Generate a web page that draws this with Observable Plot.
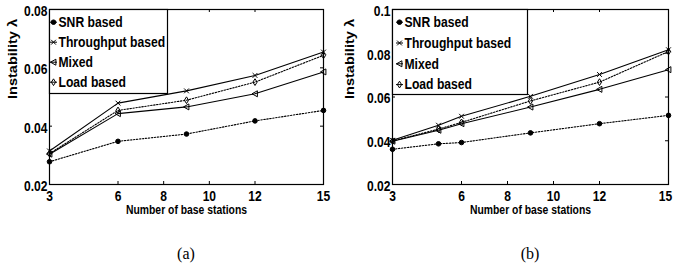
<!DOCTYPE html>
<html><head><meta charset="utf-8">
<script src="https://cdn.jsdelivr.net/npm/d3@7"></script>
<script src="https://cdn.jsdelivr.net/npm/@observablehq/plot@0.6"></script>
<style>
body{margin:0;background:#fff;}
#wrap{position:relative;width:674px;height:270px;background:#fff;}
.panel{position:absolute;top:0;width:337px;height:270px;}
.cap{position:absolute;top:245px;left:0;text-align:center;font-family:"Liberation Serif","Times New Roman",serif;font-size:16px;color:#000;}
</style></head><body>
<div id="wrap"></div>
<script>
const series = ["SNR based", "Throughput based", "Mixed", "Load based"];

// panel (a)
const xA = [3, 6, 9, 12, 15];
const snrA = [0.0278, 0.0348, 0.0373, 0.0418, 0.0454];
const thrA = [0.0315, 0.0479, 0.0521, 0.0574, 0.0654];
const mixA = [0.0304, 0.0443, 0.0466, 0.0511, 0.0586];
const loadA = [0.0306, 0.0454, 0.0489, 0.0551, 0.0643];
const yTicksA = [0.02, 0.04, 0.06, 0.08];
const yLabelsA = ["0.02", "0.04", "0.06", "0.08"];

// panel (b)
const xB = [3, 5, 6, 9, 12, 15];
const snrB = [0.0361, 0.0386, 0.0392, 0.0436, 0.0478, 0.0516];
const thrB = [0.0402, 0.0471, 0.0512, 0.0603, 0.0703, 0.0816];
const mixB = [0.0398, 0.0448, 0.0478, 0.0554, 0.0635, 0.0725];
const loadB = [0.0399, 0.0453, 0.0484, 0.0582, 0.0668, 0.0808];
const yTicksB = [0.02, 0.04, 0.06, 0.08, 0.1];
const yLabelsB = ["0.02", "0.04", "0.06", "0.08", "0.1"];

const xTicks = [3, 6, 8, 10, 12, 15];
const xTickLabels = ["3", "6", "8", "10", "12", "15"];
const xLabel = "Number of base stations";
const yLabel = "Instability \u03bb";
const captions = ["(a)", "(b)"];

const FONT = '"Liberation Sans",Arial,sans-serif';

// marker symbols
const symDot = {draw(c, s) { const r = Math.sqrt(s / Math.PI); c.moveTo(r, 0); c.arc(0, 0, r, 0, 2 * Math.PI); }};
const symX = {draw(c, s) { const r = Math.sqrt(s / Math.PI) * 0.8; c.moveTo(-r, -r); c.lineTo(r, r); c.moveTo(r, -r); c.lineTo(-r, r); }};
const symTriL = {draw(c, s) { const r = Math.sqrt(s / Math.PI); c.moveTo(-r, 0); c.lineTo(r * 0.8, -r); c.lineTo(r * 0.8, r); c.closePath(); }};
const symDia = {draw(c, s) { const r = Math.sqrt(s / Math.PI); c.moveTo(0, -r * 1.2); c.lineTo(r * 0.75, 0); c.lineTo(0, r * 1.2); c.lineTo(-r * 0.75, 0); c.closePath(); }};
const symStub = {draw(c, s) { const r = Math.sqrt(s / Math.PI); c.moveTo(-r, 0); c.lineTo(r, 0); }};

const styles = [
  {sym: symDot, r: 2.3, fill: "black", dash: "1.5,1.5"},
  {sym: symX, r: 3, fill: "none", dash: null},
  {sym: symTriL, r: 3, fill: "none", dash: null},
  {sym: symDia, r: 2.8, fill: "none", dash: "1.5,1.5"}
];

function panel(cfg) {
  const {xs, ys, yDomain, yTicks, yLabels, ml, mr, legW, legH, legMX, legTX, legStep} = cfg;
  const W = 337, Hsvg = 230, mt = 9, mb = 46;
  const iw = W - ml - mr, ih = Hsvg - mt - mb;
  const marks = [];
  ys.forEach((vals, k) => {
    const rows = xs.map((x, i) => ({x, y: vals[i], s: series[k]}));
    const st = styles[k];
    marks.push(Plot.line(rows, {x: "x", y: "y", stroke: "black", strokeWidth: 1.1, strokeDasharray: st.dash}));
    marks.push(Plot.dot(rows, {x: "x", y: "y", symbol: st.sym, r: st.r, stroke: "black", fill: st.fill, strokeWidth: 1}));
  });
  marks.push(Plot.tickX(xTicks, {x: d => d, insetTop: ih - 3, stroke: "black"}));
  marks.push(Plot.tickX(xTicks, {x: d => d, insetBottom: ih - 3, stroke: "black"}));
  marks.push(Plot.tickY(yTicks, {y: d => d, insetRight: iw - 3, stroke: "black"}));
  marks.push(Plot.tickY(yTicks, {y: d => d, insetLeft: iw - 3, stroke: "black"}));
  marks.push(Plot.axisX(xTicks, {anchor: "bottom", tickSize: 0, tickPadding: 7, tickFormat: d => xTickLabels[xTicks.indexOf(d)], fontSize: 14, fontWeight: "bold", fontFamily: FONT, fill: "black", label: null}));
  marks.push(Plot.axisY(yTicks, {anchor: "left", tickSize: 0, tickPadding: 2, dy: 2, tickFormat: d => yLabels[yTicks.indexOf(d)], fontSize: 14, fontWeight: "bold", fontFamily: FONT, fill: "black", label: null}));
  marks.push(Plot.text([xLabel], {text: d => d, frameAnchor: "bottom", dy: 29, fontSize: 12.5, fontWeight: "bold", fontFamily: FONT, fill: "black"}));
  marks.push(Plot.text([yLabel], {text: d => d, frameAnchor: "left", dx: -(ml - 13), dy: 2, rotate: -90, fontSize: 12, fontWeight: "bold", fontFamily: FONT, fill: "black"}));
  marks.push(Plot.frame({stroke: "black", strokeWidth: 1.2}));
  marks.push(Plot.frame({insetRight: iw - legW, insetBottom: ih - legH, fill: "white", stroke: "black", strokeWidth: 1.2}));
  series.forEach((name, k) => {
    const st = styles[k];
    const dy = 12.7 + k * legStep;
    marks.push(Plot.dot([name], {frameAnchor: "top-left", dx: legMX, dy, symbol: symStub, r: 3.5, stroke: "black", strokeWidth: 1}));
    marks.push(Plot.dot([name], {frameAnchor: "top-left", dx: legMX, dy, symbol: st.sym, r: st.r, stroke: "black", fill: st.fill, strokeWidth: 1}));
    marks.push(Plot.text([name], {text: d => d, frameAnchor: "top-left", dx: legTX, dy, textAnchor: "start", lineAnchor: "middle", fontSize: 15, fontWeight: "bold", fontFamily: FONT, fill: "black"}));
  });
  return Plot.plot({
    width: W, height: Hsvg,
    marginLeft: ml, marginRight: mr, marginTop: mt, marginBottom: mb,
    x: {domain: [3, 15]},
    y: {domain: yDomain},
    style: {background: "white", overflow: "visible", fontFamily: FONT},
    marks
  });
}

function squeeze(el, factor, fixed) {
  const w = fixed != null ? fixed : el.getComputedTextLength() * factor;
  el.setAttribute("textLength", w);
  el.setAttribute("lengthAdjust", "spacingAndGlyphs");
}

const wrap = document.getElementById("wrap");
const cfgs = [
  {xs: xA, ys: [snrA, thrA, mixA, loadA], yDomain: [0.02, 0.08], yTicks: yTicksA, yLabels: yLabelsA, ml: 49, mr: 14, legW: 118, legH: 84, legMX: 4, legTX: 9, legStep: 20},
  {xs: xB, ys: [snrB, thrB, mixB, loadB], yDomain: [0.02, 0.1], yTicks: yTicksB, yLabels: yLabelsB, ml: 55, mr: 6, legW: 135, legH: 85, legMX: 7, legTX: 12, legStep: 20.8}
];
cfgs.forEach((cfg, i) => {
  const p = document.createElement("div");
  p.className = "panel";
  p.style.left = (i * 337) + "px";
  const svg = panel(cfg);
  p.appendChild(svg);
  const cap = document.createElement("div");
  cap.className = "cap";
  cap.style.width = (337 - cfg.ml - cfg.mr) + "px";
  cap.style.left = cfg.ml + "px";
  cap.textContent = captions[i];
  p.appendChild(cap);
  wrap.appendChild(p);
  // condense texts to match the narrow bold face of the original
  d3.select(svg).selectAll("text").each(function() {
    const t = this.textContent;
    if (series.includes(t)) squeeze(this, 0.81);
    else if (t === xLabel) squeeze(this, 0.83);
    else if (t === yLabel) squeeze(this, 1, 80);
    else squeeze(this, 0.86);
    if (i === 1 && t === "15") this.setAttribute("dx", "-3");
  });
});
</script>
</body></html>
